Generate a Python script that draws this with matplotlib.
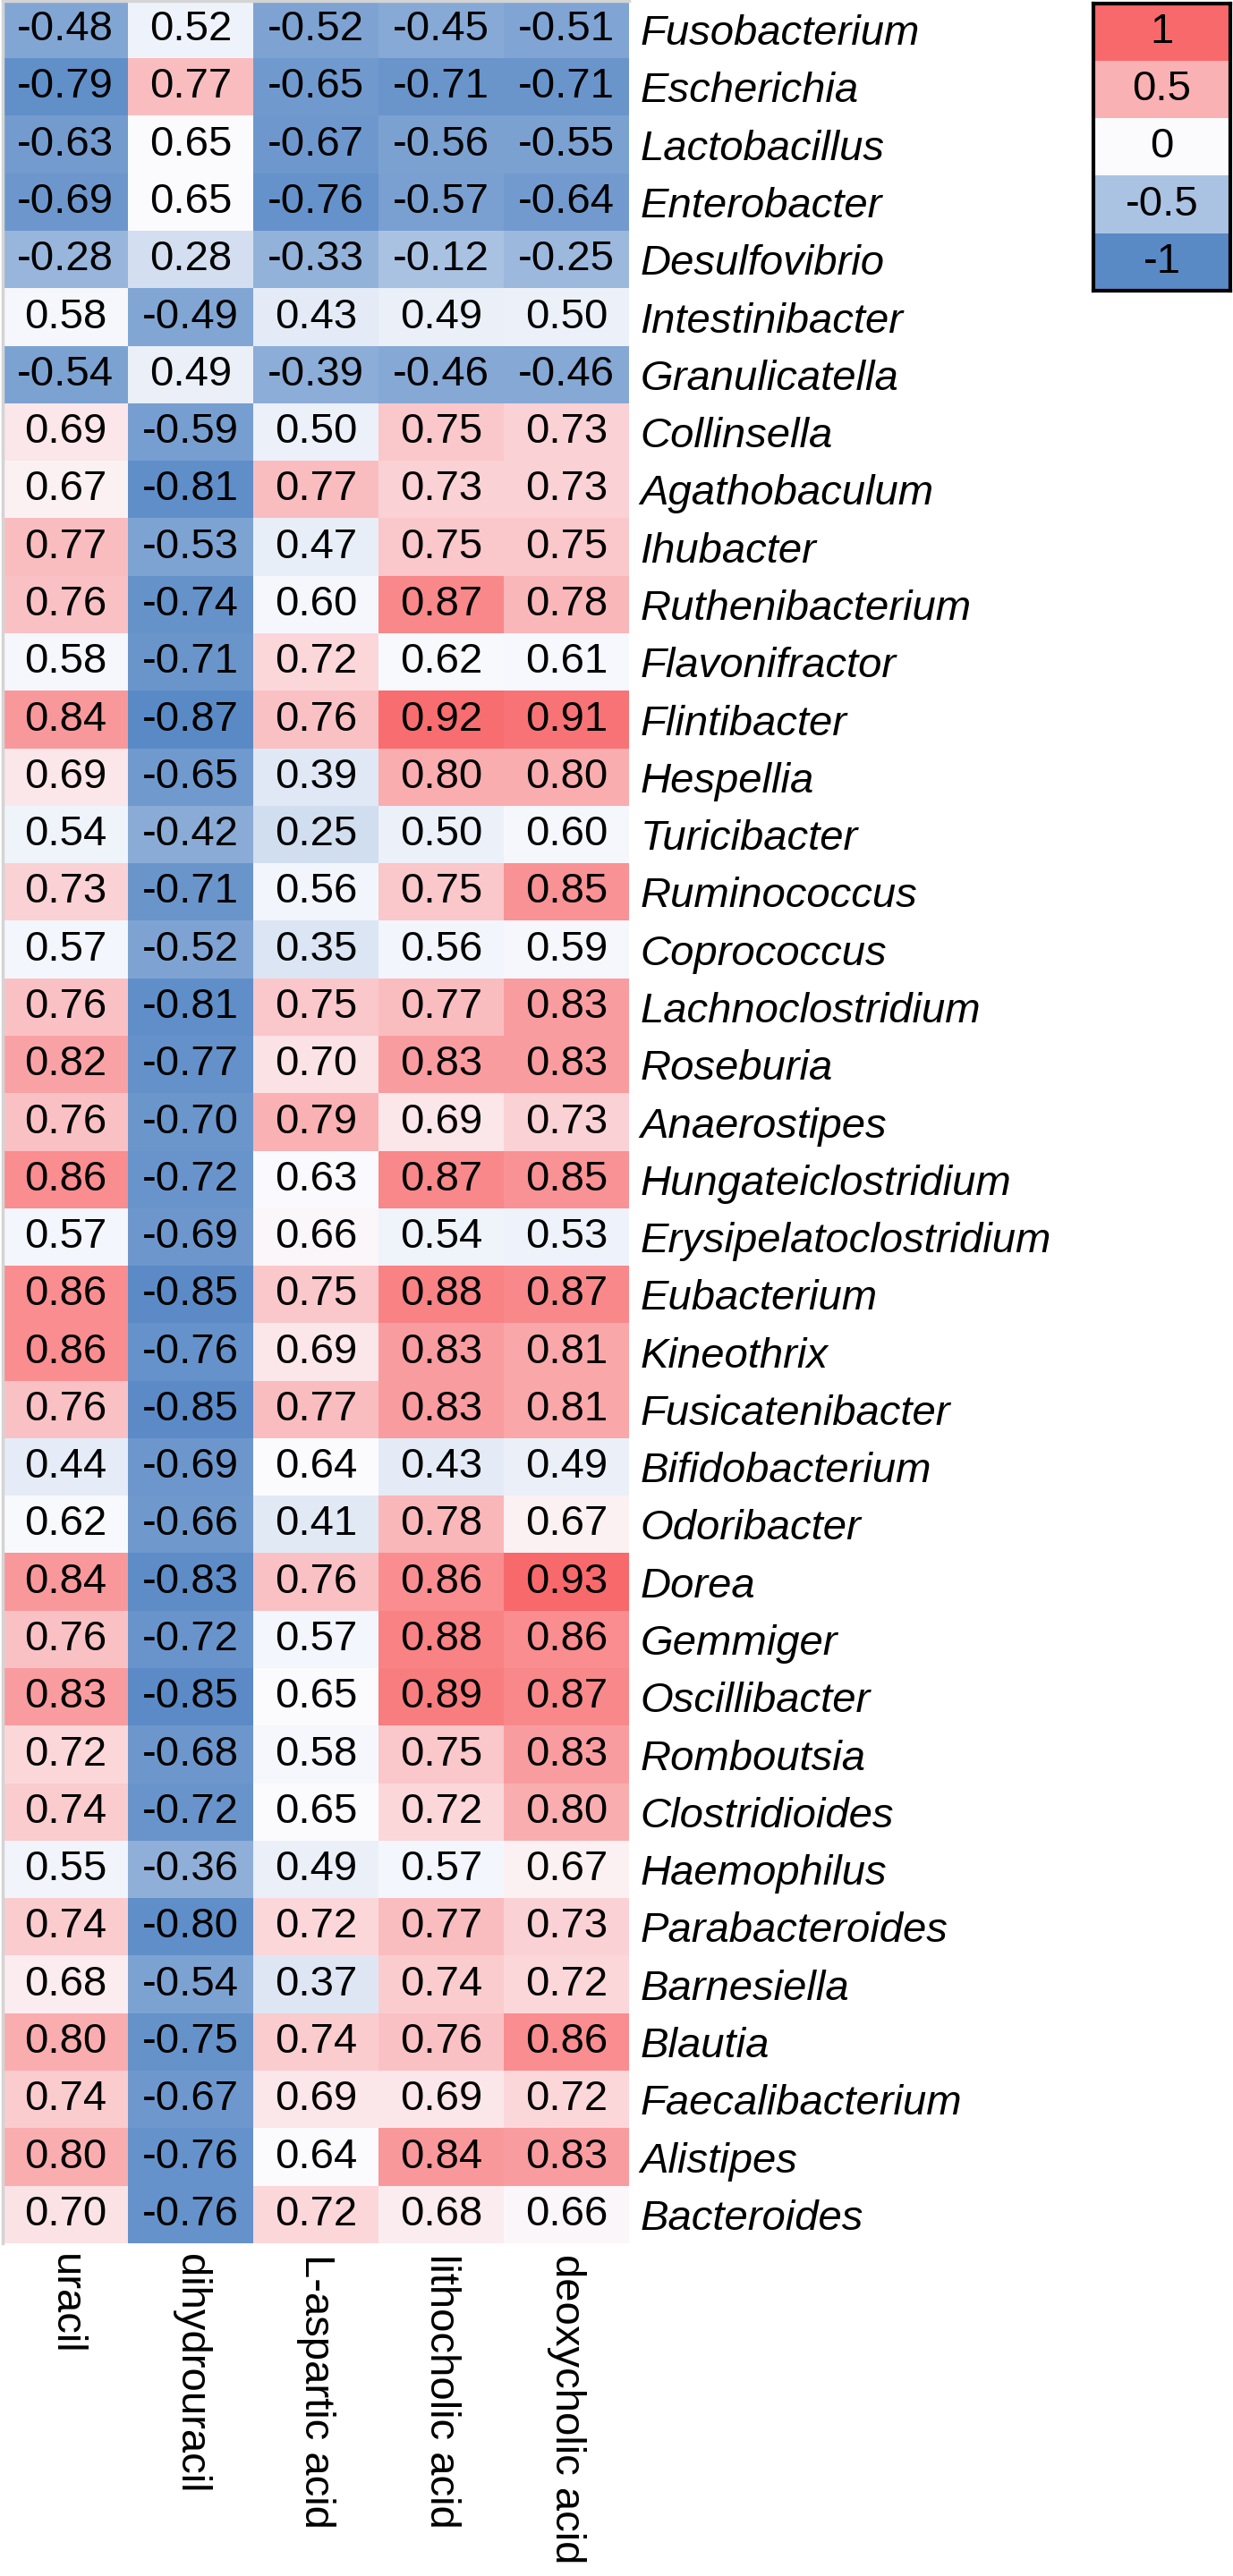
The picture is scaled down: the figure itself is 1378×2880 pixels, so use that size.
import numpy as np
import matplotlib
matplotlib.use("Agg")
import matplotlib.pyplot as plt
from matplotlib.colors import LinearSegmentedColormap, TwoSlopeNorm, Normalize

plt.rcParams['font.family'] = ['Liberation Sans', 'DejaVu Sans']

genera = ["Fusobacterium", "Escherichia", "Lactobacillus", "Enterobacter", "Desulfovibrio",
          "Intestinibacter", "Granulicatella", "Collinsella", "Agathobaculum", "Ihubacter",
          "Ruthenibacterium", "Flavonifractor", "Flintibacter", "Hespellia", "Turicibacter",
          "Ruminococcus", "Coprococcus", "Lachnoclostridium", "Roseburia", "Anaerostipes",
          "Hungateiclostridium", "Erysipelatoclostridium", "Eubacterium", "Kineothrix",
          "Fusicatenibacter", "Bifidobacterium", "Odoribacter", "Dorea", "Gemmiger",
          "Oscillibacter", "Romboutsia", "Clostridioides", "Haemophilus", "Parabacteroides",
          "Barnesiella", "Blautia", "Faecalibacterium", "Alistipes", "Bacteroides"]

metabolites = ["uracil", "dihydrouracil", "L-aspartic acid", "lithocholic acid", "deoxycholic acid"]

uracil = [-0.48, -0.79, -0.63, -0.69, -0.28, 0.58, -0.54, 0.69, 0.67, 0.77,
          0.76, 0.58, 0.84, 0.69, 0.54, 0.73, 0.57, 0.76, 0.82, 0.76,
          0.86, 0.57, 0.86, 0.86, 0.76, 0.44, 0.62, 0.84, 0.76, 0.83,
          0.72, 0.74, 0.55, 0.74, 0.68, 0.80, 0.74, 0.80, 0.70]
dihydrouracil = [0.52, 0.77, 0.65, 0.65, 0.28, -0.49, 0.49, -0.59, -0.81, -0.53,
                 -0.74, -0.71, -0.87, -0.65, -0.42, -0.71, -0.52, -0.81, -0.77, -0.70,
                 -0.72, -0.69, -0.85, -0.76, -0.85, -0.69, -0.66, -0.83, -0.72, -0.85,
                 -0.68, -0.72, -0.36, -0.80, -0.54, -0.75, -0.67, -0.76, -0.76]
aspartic = [-0.52, -0.65, -0.67, -0.76, -0.33, 0.43, -0.39, 0.50, 0.77, 0.47,
            0.60, 0.72, 0.76, 0.39, 0.25, 0.56, 0.35, 0.75, 0.70, 0.79,
            0.63, 0.66, 0.75, 0.69, 0.77, 0.64, 0.41, 0.76, 0.57, 0.65,
            0.58, 0.65, 0.49, 0.72, 0.37, 0.74, 0.69, 0.64, 0.72]
lithocholic = [-0.45, -0.71, -0.56, -0.57, -0.12, 0.49, -0.46, 0.75, 0.73, 0.75,
               0.87, 0.62, 0.92, 0.80, 0.50, 0.75, 0.56, 0.77, 0.83, 0.69,
               0.87, 0.54, 0.88, 0.83, 0.83, 0.43, 0.78, 0.86, 0.88, 0.89,
               0.75, 0.72, 0.57, 0.77, 0.74, 0.76, 0.69, 0.84, 0.68]
deoxycholic = [-0.51, -0.71, -0.55, -0.64, -0.25, 0.50, -0.46, 0.73, 0.73, 0.75,
               0.78, 0.61, 0.91, 0.80, 0.60, 0.85, 0.59, 0.83, 0.83, 0.73,
               0.85, 0.53, 0.87, 0.81, 0.81, 0.49, 0.67, 0.93, 0.86, 0.87,
               0.83, 0.80, 0.67, 0.73, 0.72, 0.86, 0.72, 0.83, 0.66]

legend_values = [1, 0.5, 0, -0.5, -1]
legend_labels = ["1", "0.5", "0", "-0.5", "-1"]

data = np.array([uracil, dihydrouracil, aspartic, lithocholic, deoxycholic]).T

# excel style 3 colour scale: min / 50th percentile / max
cmap = LinearSegmentedColormap.from_list("excel", ["#5A8AC6", "#FCFCFF", "#F8696B"])
norm = TwoSlopeNorm(vmin=data.min(), vcenter=np.percentile(data, 50), vmax=data.max())

W, H = 1378, 2880
fig = plt.figure(figsize=(W / 100, H / 100), dpi=100)

ax = fig.add_axes([3 / W, 1 - 2508 / H, 700 / W, 2507 / H])
ax.imshow(data, cmap=cmap, norm=norm, aspect='auto', interpolation='nearest')
for i in range(data.shape[0]):
    for j in range(data.shape[1]):
        ax.text(j, i, "%.2f" % data[i, j], ha='center', va='center', fontsize=34, color='black')

ax.set_xticks(range(len(metabolites)))
ax.set_xticklabels(metabolites, rotation=-90, fontsize=34, va='top', ha='center')
ax.set_yticks(range(len(genera)))
ax.set_yticklabels(genera, fontsize=34, style='italic')
ax.yaxis.tick_right()
ax.tick_params(axis='both', length=0)
ax.tick_params(axis='x', pad=9)
ax.tick_params(axis='y', pad=9)
for s in ['right', 'bottom']:
    ax.spines[s].set_visible(False)
for s in ['top', 'left']:
    ax.spines[s].set_color('#d4d4d4')
    ax.spines[s].set_linewidth(2.5)

# legend block
lax = fig.add_axes([1222 / W, 1 - 325 / H, 153 / W, 321 / H])
lax.imshow(np.array(legend_values).reshape(-1, 1), cmap=cmap, norm=Normalize(-1, 1),
           aspect='auto', interpolation='nearest')
for k, lab in enumerate(legend_labels):
    lax.text(0, k, lab, ha='center', va='center', fontsize=34)
lax.set_xticks([])
lax.set_yticks([])
for s in lax.spines.values():
    s.set_linewidth(3)
    s.set_color('black')

fig.savefig("out.png", dpi=100)
